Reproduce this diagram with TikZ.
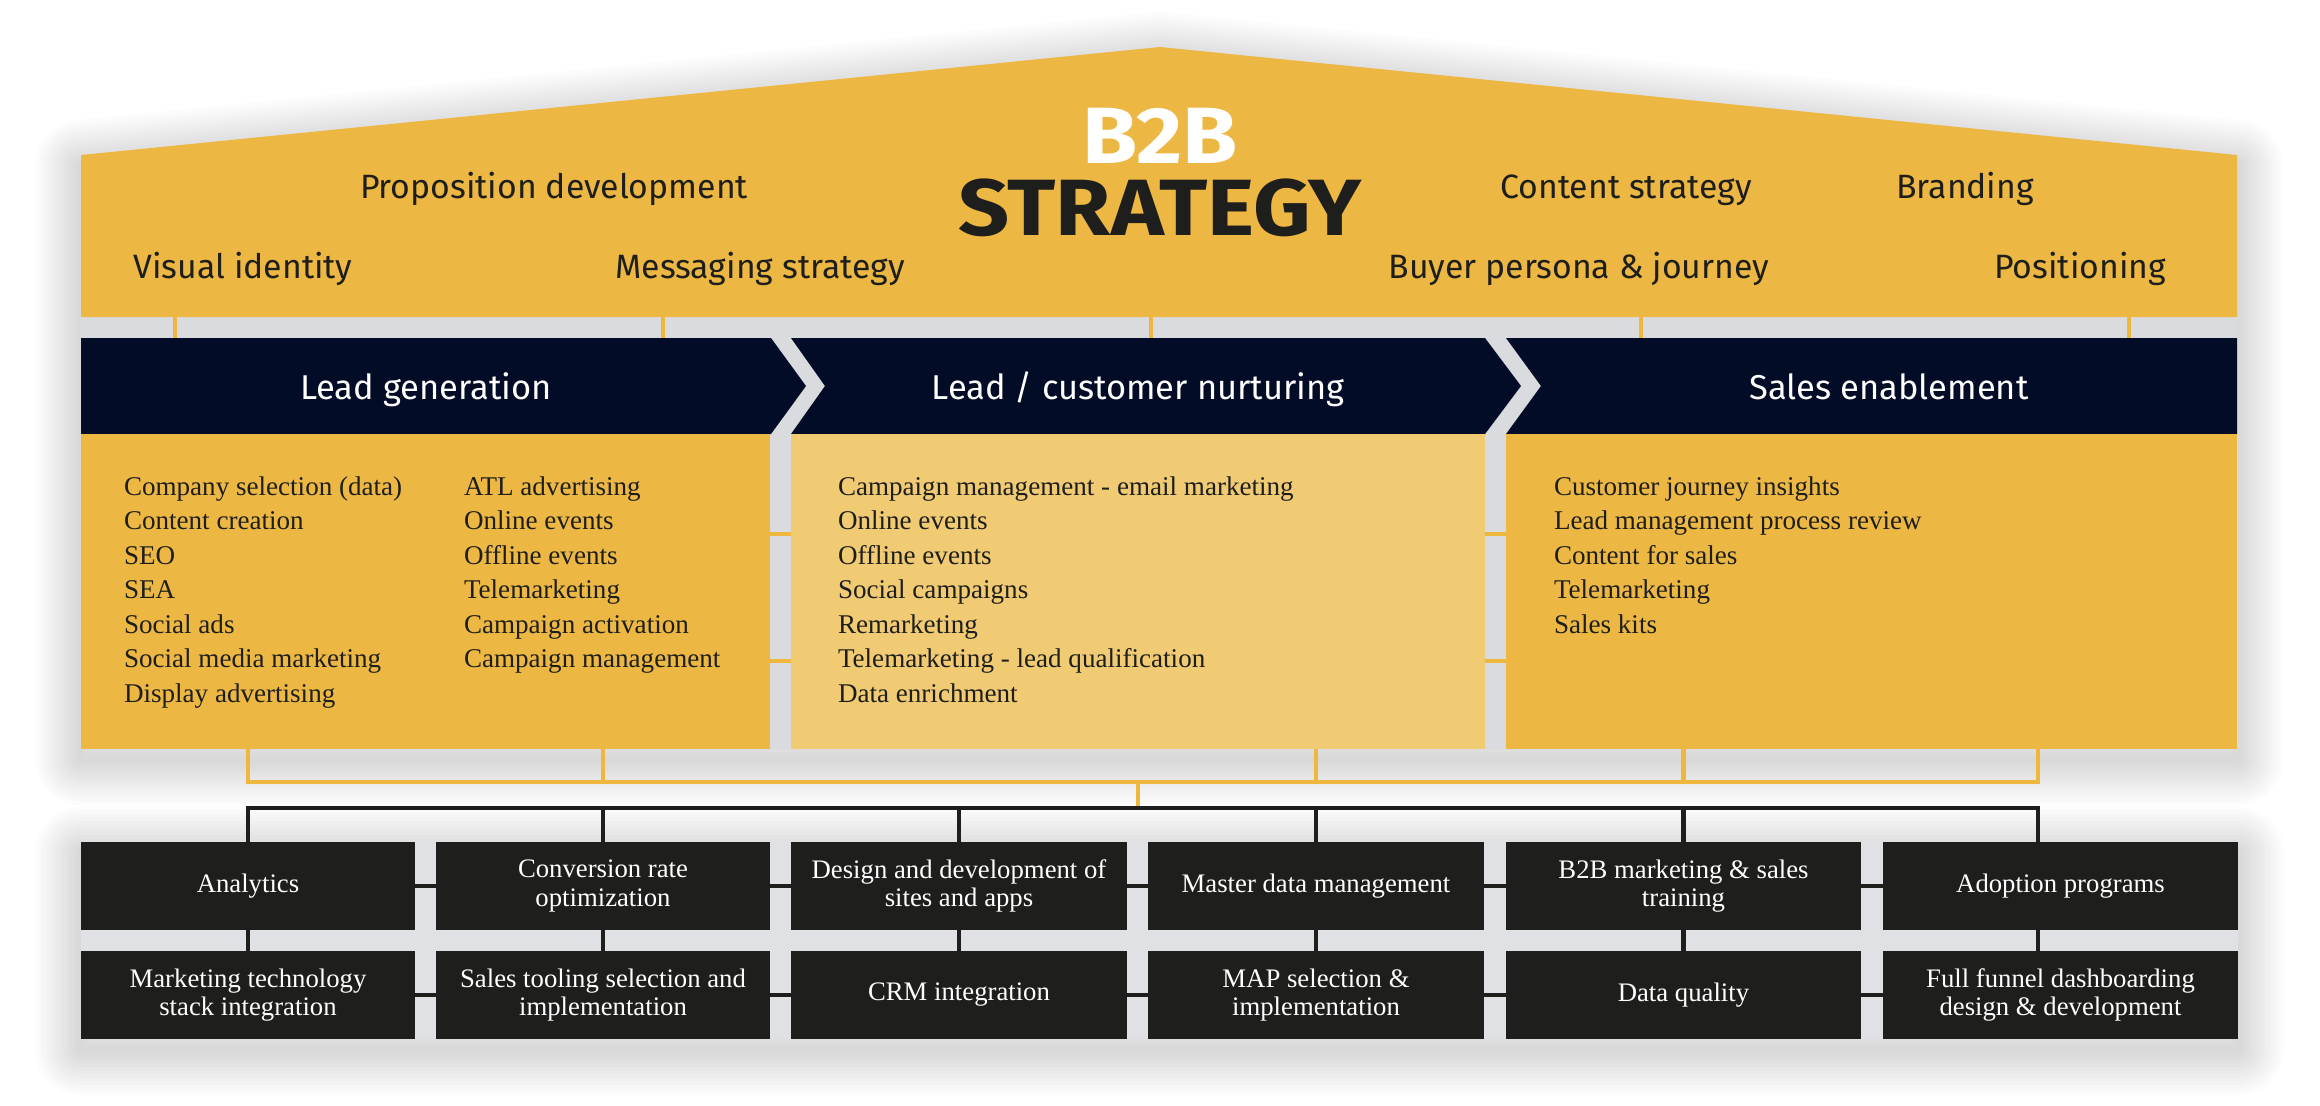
\documentclass[tikz,border=0pt]{standalone}
\usepackage{fontspec}
\setmainfont{Liberation Serif}
\newfontfamily\headfont{Fira Sans}
\newfontfamily\titlefont{Fira Sans}[FakeStretch=1.12]

\definecolor{roofyellow}{HTML}{ECB843}
\definecolor{paleyellow}{HTML}{F1CB73}
\definecolor{navy}{HTML}{020C26}
\definecolor{boxblack}{HTML}{1E1E1C}
\definecolor{gapgrey}{HTML}{DADBDF}
\definecolor{rowgrey}{HTML}{E0E1E5}
\definecolor{wireyellow}{HTML}{EFB73E}

\tikzset{
  haze/.style={draw=black!80, opacity=0.011, line width=#1, line join=round, yshift=-3pt},
  pillar/.style={rectangle, inner sep=0pt, outer sep=0pt},
  toplabel/.style={font=\headfont\fontsize{9.6}{11}\selectfont, text=boxblack, anchor=base, inner sep=0pt},
  heading/.style={pillar, font=\headfont\fontsize{9.8}{11}\selectfont, text=white, text height=7.4pt, text depth=0pt, minimum height=0.96cm},
  entry/.style={font=\fontsize{7.7}{9.8}\selectfont, text=boxblack, anchor=base west, inner sep=0pt},
  service/.style={pillar, fill=boxblack, text=white, align=center, minimum width=3.34cm, minimum height=0.88cm, font=\fontsize{7.6}{8.1}\selectfont},
  wireyellow/.style={draw=wireyellow, line width=1.4pt},
  wireblack/.style={draw=boxblack, line width=1.4pt},
}

\begin{document}
\begin{tikzpicture}[x=0.01cm, y=-0.01cm, inner sep=0pt, outer sep=0pt]
\fill[white] (0,0) rectangle (2320,1105);
\useasboundingbox (0,0) rectangle (2320,1105);

\foreach \w in {2,4,...,26} {
  \draw[haze=\w pt] (81,749) -- (81,155) -- (1160,47) -- (2237,155) -- (2237,749) -- cycle;
  \draw[haze=\w pt] (81,842) rectangle (2238,1039);
}
\fill[gapgrey] (81,749) -- (81,155) -- (1160,47) -- (2237,155) -- (2237,749) -- cycle;
\fill[rowgrey] (81,842) rectangle (2238,1039);
\fill[roofyellow] (81,317) -- (81,155) -- (1160,47) -- (2237,155) -- (2237,317) -- cycle;
\node[pillar, minimum width=21.56cm, minimum height=1.62cm] (roof) at (1159,236) {};

\node[font=\titlefont\bfseries\fontsize{22.7}{24}\selectfont, text=white, anchor=base] (b2b) at (1160,163) {B2B};
\node[font=\titlefont\bfseries\fontsize{22.7}{24}\selectfont, text=boxblack, anchor=base] (strat) at (1160,235) {STRATEGY};

\node[toplabel] (prop) at (554,198) {Proposition development};
\node[toplabel] (content) at (1626,198) {Content strategy};
\node[toplabel] (brand) at (1965,198) {Branding};
\node[toplabel] (visual) at (243,278) {Visual identity};
\node[toplabel] (msg) at (760,278) {Messaging strategy};
\node[toplabel] (buyer) at (1579,278) {Buyer persona \& journey};
\node[toplabel] (posit) at (2080,278) {Positioning};

\fill[navy] (81,338) -- (771,338) -- (806,386) -- (771,434) -- (81,434) -- cycle;
\fill[navy] (791,338) -- (1485,338) -- (1521,386) -- (1485,434) -- (791,434) -- (825,386) -- cycle;
\fill[navy] (1506,338) -- (2237,338) -- (2237,434) -- (1506,434) -- (1541,386) -- cycle;
\node[heading, minimum width=6.90cm] (lgh) at (426,386) {Lead generation};
\node[heading, minimum width=6.94cm] (nuh) at (1138,386) {Lead / customer nurturing};
\node[heading, minimum width=6.96cm] (seh) at (1889,386) {Sales enablement};

\foreach \x/\h in {175/lgh,663/lgh,1151/nuh,1641/seh,2129/seh}
  \draw[wireyellow, line width=1pt] (roof.south -| \x,0) -- (\h.north -| \x,0);

\node[pillar, fill=roofyellow, minimum width=6.89cm, minimum height=3.15cm] (lg) at (425.5,591.5) {};
\node[pillar, fill=paleyellow, minimum width=6.94cm, minimum height=3.15cm] (ln) at (1138,591.5) {};
\node[pillar, fill=roofyellow, minimum width=7.31cm, minimum height=3.15cm] (se) at (1871.5,591.5) {};

\foreach \y in {534,661} {
  \draw[wireyellow, line width=1.2pt] (lg.east |- 0,\y) -- (ln.west |- 0,\y);
  \draw[wireyellow, line width=1.2pt] (ln.east |- 0,\y) -- (se.west |- 0,\y);
}

\foreach \t [count=\i] in {Company selection (data),Content creation,SEO,SEA,Social ads,Social media marketing,Display advertising}
  \node[entry] (lga\i) at (124,{495+34.5*(\i-1)}) {\t};
\foreach \t [count=\i] in {ATL advertising,Online events,Offline events,Telemarketing,Campaign activation,Campaign management}
  \node[entry] (lgb\i) at (464,{495+34.5*(\i-1)}) {\t};
\foreach \t [count=\i] in {Campaign management - email marketing,Online events,Offline events,Social campaigns,Remarketing,Telemarketing - lead qualification,Data enrichment}
  \node[entry] (ln\i) at (838,{495+34.5*(\i-1)}) {\t};
\foreach \t [count=\i] in {Customer journey insights,Lead management process review,Content for sales,Telemarketing,Sales kits}
  \node[entry] (se\i) at (1554,{495+34.5*(\i-1)}) {\t};

\node[service] (an) at (248,886) {Analytics};
\node[service] (cro) at (603,886) {Conversion rate\\optimization};
\node[service, minimum width=3.36cm] (dev) at (959,886) {Design and development of\\sites and apps};
\node[service, minimum width=3.36cm] (mdm) at (1316,886) {Master data management};
\node[service, minimum width=3.55cm] (train) at (1683.5,886) {B2B marketing \& sales\\training};
\node[service, minimum width=3.55cm] (adopt) at (2060.5,886) {Adoption programs};
\node[service] (mts) at (248,995) {Marketing technology\\stack integration};
\node[service] (stool) at (603,995) {Sales tooling selection and\\implementation};
\node[service, minimum width=3.36cm] (crm) at (959,995) {CRM integration};
\node[service, minimum width=3.36cm] (map) at (1316,995) {MAP selection \&\\implementation};
\node[service, minimum width=3.55cm] (dq) at (1683.5,995) {Data quality};
\node[service, minimum width=3.55cm] (ffd) at (2060.5,995) {Full funnel dashboarding\\design \& development};

\coordinate (ybL) at (248,782);
\coordinate (ybR) at (2038,782);
\coordinate (ydrop) at (1138,782);
\coordinate (busL) at (248,808);
\coordinate (busR) at (2038,808);

\draw[wireyellow] (lg.south -| ybL) -- (ybL) -- (ybR) -- (se.south -| ybR);
\foreach \p/\b in {lg/cro,ln/mdm,se/train}
  \draw[wireyellow] (\p.south -| \b.north) -- (\b.north |- ybL);
\draw[wireyellow] (ydrop) -- (ydrop |- busL);

\draw[wireblack] (an.north) -- (busL) -- (busR) -- (busR |- adopt.north);
\foreach \b in {cro,dev,mdm,train}
  \draw[wireblack] (\b.north) -- (\b.north |- busL);
\foreach \a/\b in {an/mts,cro/stool,dev/crm,mdm/map,train/dq}
  \draw[wireblack] (\a.south) -- (\b.north);
\draw[wireblack] (busR |- adopt.south) -- (busR |- ffd.north);
\foreach \a/\b in {an/cro,cro/dev,dev/mdm,mdm/train,train/adopt,mts/stool,stool/crm,crm/map,map/dq,dq/ffd}
  \draw[wireblack] (\a.east) -- (\b.west);
\end{tikzpicture}
\end{document}
